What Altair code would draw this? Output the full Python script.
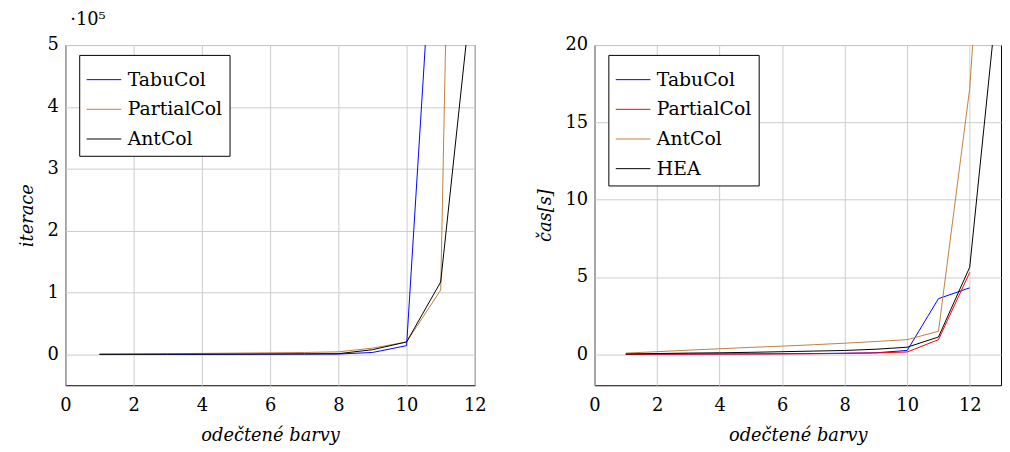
import altair as alt
import pandas as pd

# ---------------- data ----------------
# left chart: iterations (in units of 10^5)
left_x = [1, 2, 3, 4, 5, 6, 7, 8, 9, 10, 11, 12]
left_tabucol = [0.0, 0.0, 0.0, 0.0, 0.001, 0.002, 0.003, 0.005, 0.03, 0.14, 9.0]
left_partialcol = [0.002, 0.005, 0.01, 0.015, 0.02, 0.025, 0.03, 0.04, 0.1, 0.2, 1.04, 29.0]
left_antcol = [0.0, 0.001, 0.002, 0.003, 0.004, 0.006, 0.008, 0.01, 0.075, 0.2, 1.17, 6.35]

# right chart: time in seconds
right_x = [1, 2, 3, 4, 5, 6, 7, 8, 9, 10, 11, 12, 13]
right_tabucol = [0.01, 0.01, 0.02, 0.02, 0.03, 0.04, 0.05, 0.07, 0.1, 0.25, 3.6, 4.3]
right_partialcol = [0.0, 0.01, 0.01, 0.02, 0.02, 0.03, 0.04, 0.06, 0.09, 0.15, 0.95, 5.3]
right_antcol = [0.08, 0.17, 0.27, 0.36, 0.45, 0.53, 0.62, 0.72, 0.83, 0.95, 1.49, 17.2, 47.0]
right_hea = [0.02, 0.05, 0.08, 0.1, 0.13, 0.17, 0.21, 0.25, 0.33, 0.46, 1.12, 5.64, 25.5]

left_series = ["TabuCol", "PartialCol", "AntCol"]
left_colors = ["#0000ff", "#bf8040", "#000000"]
right_series = ["TabuCol", "PartialCol", "AntCol", "HEA"]
right_colors = ["#0000ff", "#ff0000", "#bf8040", "#000000"]

x_ticks_left = [0, 2, 4, 6, 8, 10, 12]
y_ticks_left = [0, 1, 2, 3, 4, 5]
x_ticks_right = [0, 2, 4, 6, 8, 10, 12]
y_ticks_right = [0, 5, 10, 15, 20]


def long_df(xs, names, cols):
    rows = []
    for k, (n, vals) in enumerate(zip(names, cols)):
        for x, v in zip(xs, vals):
            rows.append({"x": x, "v": v, "series": n, "k": k})
    return pd.DataFrame(rows)


df_left = long_df(left_x, left_series, [left_tabucol, left_partialcol, left_antcol])
df_right = long_df(right_x, right_series,
                   [right_tabucol, right_partialcol, right_antcol, right_hea])

AX_FONT = "DejaVu Serif"
LEG_FONT = "DejaVu Serif"
FS = 18


def axis(vals, title, lp, tp):
    return alt.Axis(values=vals, title=title, titleFont=AX_FONT, titleFontSize=FS,
                    titleFontStyle="italic", titleFontWeight="normal", titleColor="black",
                    labelFont=AX_FONT, labelFontSize=FS, labelColor="black",
                    grid=True, gridColor="#cccccc", gridWidth=1, ticks=False,
                    domain=False, labelPadding=lp, labelFlush=False, titlePadding=tp)


def legend():
    return alt.Legend(title=None, orient="none", legendX=14, legendY=10,
                      symbolType="stroke", symbolSize=1225, symbolStrokeWidth=1,
                      labelFont=LEG_FONT, labelFontSize=19, labelColor="black",
                      strokeColor="black", fillColor="white", padding=7,
                      rowPadding=2, labelOffset=6, cornerRadius=0)


left = alt.Chart(df_left).mark_line(clip=True, strokeWidth=1).encode(
    x=alt.X("x:Q", scale=alt.Scale(domain=[0, 12], nice=False, zero=False),
            axis=axis(x_ticks_left, "odečtené barvy", 12, 12)),
    y=alt.Y("v:Q", scale=alt.Scale(domain=[-0.5, 5], nice=False, zero=False),
            axis=axis(y_ticks_left, "iterace", 7, 11)),
    color=alt.Color("series:N", scale=alt.Scale(domain=left_series, range=left_colors),
                    legend=legend()),
    order=alt.Order("x:Q"),
).properties(
    width=414, height=344,
    title=alt.TitleParams(text="·10⁵", anchor="start", frame="group", font=AX_FONT,
                          fontSize=18, fontWeight="normal", color="black", offset=7, dx=5),
)

right = alt.Chart(df_right).mark_line(clip=True, strokeWidth=1).encode(
    x=alt.X("x:Q", scale=alt.Scale(domain=[0, 13], nice=False, zero=False),
            axis=axis(x_ticks_right, "odečtené barvy", 12, 12)),
    y=alt.Y("v:Q", scale=alt.Scale(domain=[-2, 20], nice=False, zero=False),
            axis=axis(y_ticks_right, "čas[s]", 7, 11)),
    color=alt.Color("series:N", scale=alt.Scale(domain=right_series, range=right_colors),
                    legend=legend()),
    order=alt.Order("x:Q"),
).properties(
    width=411, height=344,
    title=alt.TitleParams(text="·10⁵", anchor="start", frame="group", font=AX_FONT,
                          fontSize=18, fontWeight="normal", color="transparent", offset=7),
)

chart = alt.hconcat(left, right, spacing=49).resolve_scale(
    color="independent"
).resolve_legend(color="independent").configure_view(
    stroke="black", strokeWidth=1
).properties(padding={"left": 10, "top": 0, "right": 0, "bottom": 0}, background="white")

chart.save("out.html", embed_options={"renderer": "svg", "actions": False})
